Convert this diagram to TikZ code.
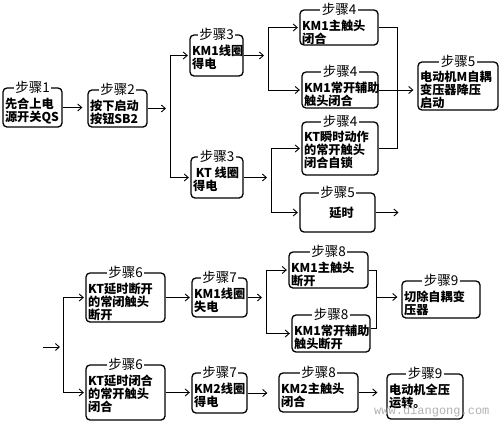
\documentclass[tikz,border=0pt]{standalone}
\usepackage{fontspec}
\setmainfont{Noto Sans CJK SC}
\newfontfamily\wmfont{Liberation Mono}
\usetikzlibrary{arrows.meta}

\begin{document}
\begin{tikzpicture}[x=1pt,y=-1pt,
  stepbox/.style={draw, line width=1.3pt, rounded corners=4pt, inner sep=0pt},
  steptitle/.style={fill=white, inner xsep=1.5pt, inner ysep=0pt, font=\fontsize{13.5}{13.5}\selectfont},
  steptext/.style={anchor=north west, align=left, inner sep=0pt, font=\fontsize{12.2}{13}\selectfont\bfseries},
  wire/.style={line width=0.9pt},
  flow/.style={wire, -{Straight Barb[length=4pt,width=7pt]}, shorten >=1.5pt}]
\useasboundingbox (0,0) rectangle (500,424);
% boxes: name/x/y/width/height/step/text
\foreach \n/\x/\y/\w/\h/\t/\b in {
  s1/32.5/107.5/59/39/1/{先合上电\\源开关QS},
  s2/117.5/108.5/59/37/2/{按下启动\\按钮SB2},
  s3a/216.5/55.5/53/41/3/{KM1线圈\\得电},
  s3b/217/177.5/52/41/3/{\ KT 线圈\\得电},
  s4a/339/27.5/78/35/4/{KM1主触头\\闭合},
  s4b/340/90/76/36/4/{KM1常开辅助\\触头闭合},
  s4c/340/148.5/76/53/4/{KT瞬时动作\\的常开触头\\闭合自锁},
  s5a/337.5/212.5/75/39/5/{},
  s5b/458/86/80/48/5/{电动机M自耦\\变压器降压\\启动},
  s6a/125.5/297.5/79/49/6/{KT延时断开\\的常闭触头\\断开},
  s6b/125.5/392.5/79/55/6/{KT延时闭合\\的常开触头\\闭合},
  s7a/219.5/297.5/55/39/7/{KM1线圈\\失电},
  s7b/219.5/393/55/40/7/{KM2线圈\\得电},
  s8a/328.5/270/79/36/8/{KM1主触头\\断开},
  s8b/331/333.5/78/37/8/{KM1常开辅助\\触头断开},
  s9a/441/299.5/78/37/9/{切除自耦变\\压器},
  s8c/318.5/392.5/79/39/8/{KM2主触头\\闭合},
  s9b/425/396.5/76/45/9/{电动机全压\\运转。}}
{
  \node[stepbox, minimum width=\w pt, minimum height=\h pt] (\n) at (\x,\y) {};
  \node[steptitle] (\n-title) at (\n.north) {步骤\t};
  \node[steptext] (\n-text) at ([shift={(2.5pt,-10pt)}]\n.north west) {\b};
}
\node[font=\fontsize{12.2}{13}\selectfont\bfseries] (s5a-text) at ([xshift=4pt]s5a.center) {延时};

% upper chain
\coordinate (ja) at (170,108.5);
\coordinate (jb) at (268,55.5);
\coordinate (jc) at (271,177.5);
\coordinate (jd) at (397,27.5);
\coordinate (dl) at (400,212.5);
\draw[flow, shorten >=5pt] (s1.east) -- (s2.west |- s1.east);
\draw[flow, shorten >=4pt] (s2.east) -- (ja);
\draw[wire] (ja |- s3a.west) -- (ja |- s3b.west);
\draw[flow] (ja |- s3a.west) -- (s3a.west);
\draw[flow] (ja |- s3b.west) -- (s3b.west);
\draw[flow, shorten >=4pt] (s3a.east) -- (jb);
\draw[wire] (jb |- s4a.west) -- (jb |- s4b.west);
\draw[flow] (jb |- s4a.west) -- (s4a.west);
\draw[flow] (jb |- s4b.west) -- (s4b.west);
\draw[flow, shorten >=4pt] (s3b.east) -- (jc);
\draw[wire] (jc |- s4c.west) -- (jc |- s5a.west);
\draw[flow] (jc |- s4c.west) -- (s4c.west);
\draw[flow] (jc |- s5a.west) -- (s5a.west);
\draw[wire] (s4a.east) -- (jd) -- (jd |- s4c.east) -- (s4c.east);
\draw[flow, shorten >=4pt] (s4b.east) -- (s5b.west |- s4b.east);
\draw[flow] (s5a.east) -- (dl);

% lower chain
\coordinate (in) at (43,347);
\coordinate (je) at (63,347);
\coordinate (jf) at (266,297.5);
\coordinate (jg) at (376,297);
\coordinate (s8b-out) at ([yshift=5pt]s8b.east);
\draw[flow, shorten >=3pt] (in) -- (je);
\draw[wire] (je |- s6a.west) -- (je |- s6b.west);
\draw[flow] (je |- s6a.west) -- (s6a.west);
\draw[flow] (je |- s6b.west) -- (s6b.west);
\draw[flow] (s6a.east) -- (s7a.west);
\draw[flow] (s6b.east) -- (s6b.east -| s7b.west);
\draw[flow, shorten >=4pt] (s7a.east) -- (jf);
\draw[wire] (jf |- s8a.west) -- (jf |- s8b.west);
\draw[flow] (jf |- s8a.west) -- (s8a.west);
\draw[flow] (jf |- s8b.west) -- (s8b.west);
\draw[wire] (s8a.east) -- (jg |- s8a.east) -- (jg |- s8b-out) -- (s8b-out);
\draw[flow, shorten >=4pt] (jg) -- (jg -| s9a.west);
\draw[flow, shorten >=11pt] (s7b.east) -- (s7b.east -| s8c.west);
\draw[flow, shorten >=9pt] (s8c.east) -- (s8c.east -| s9b.west);

\node[font=\wmfont\fontsize{12}{12}\selectfont, text=gray!60, anchor=west, inner sep=0pt] (wm) at (374,411) {www.diangong.com};
\end{tikzpicture}
\end{document}
